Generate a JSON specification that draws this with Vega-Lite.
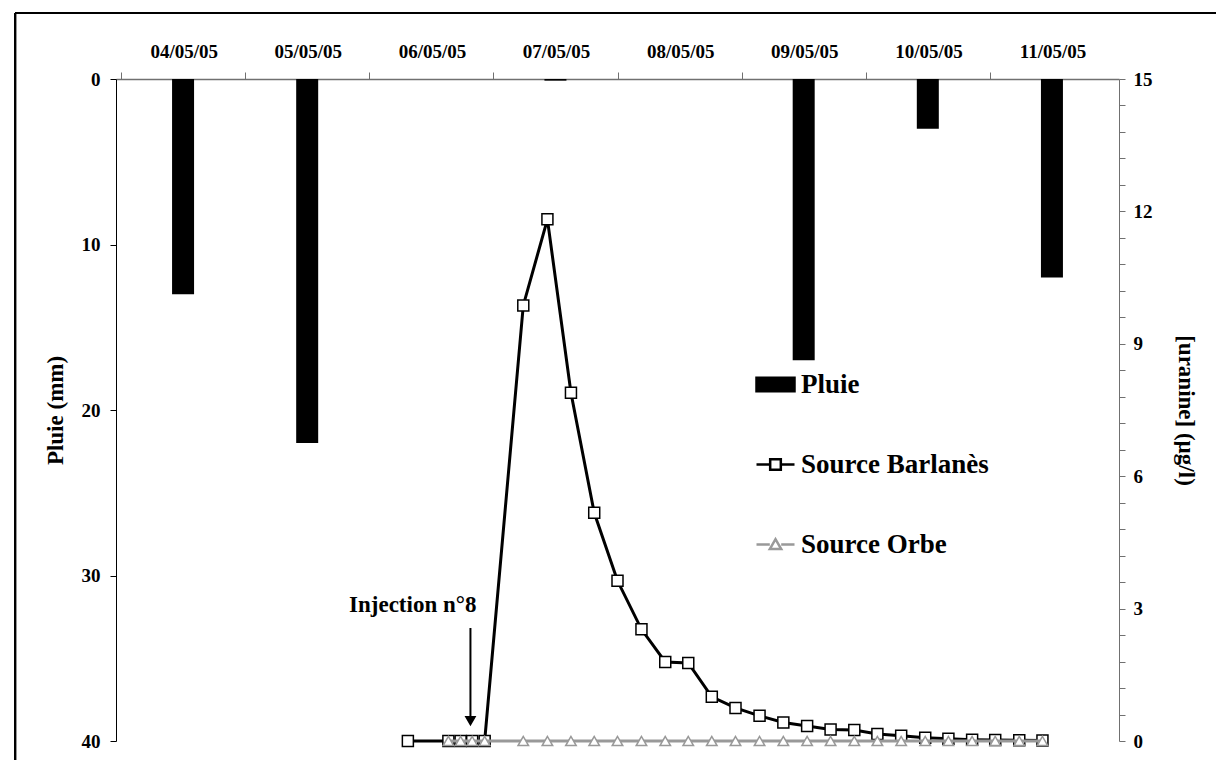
{
  "$schema": "https://vega.github.io/schema/vega-lite/v6.json",
  "width": 1003,
  "height": 662,
  "autosize": {"type": "none"},
  "padding": {"left": 116, "top": 79, "right": 97, "bottom": 19},
  "background": "white",
  "config": {
    "font": "Liberation Serif",
    "view": {"stroke": null},
    "axis": {
      "labelFont": "Liberation Serif",
      "labelFontWeight": "bold",
      "labelFontSize": 19,
      "labelColor": "black",
      "titleFont": "Liberation Serif",
      "titleFontWeight": "bold",
      "titleFontSize": 23,
      "titleColor": "black",
      "grid": false,
      "labelOverlap": false
    },
    "axisTop": {"labelOffset": 62.7, "labelFlush": false, "labelBound": false, "tickSize": 7, "labelPadding": 11, "domainColor": "#707070", "tickColor": "#707070", "domainWidth": 1.5},
    "axisLeft": {"tickSize": 6, "labelPadding": 10, "titlePadding": 14, "domainColor": "black", "tickColor": "black"},
    "axisRight": {"tickSize": 6, "labelPadding": 8, "titlePadding": 21, "domainColor": "#707070", "tickColor": "#707070"}
  },
  "datasets": {
    "pluie": [
      {"date": "2005-05-04T12:00", "series": "Pluie", "pluie": 13},
      {"date": "2005-05-05T12:00", "series": "Pluie", "pluie": 22},
      {"date": "2005-05-06T12:00", "series": "Pluie", "pluie": 0},
      {"date": "2005-05-07T12:00", "series": "Pluie", "pluie": 0.1},
      {"date": "2005-05-08T12:00", "series": "Pluie", "pluie": 0},
      {"date": "2005-05-09T12:00", "series": "Pluie", "pluie": 17},
      {"date": "2005-05-10T12:00", "series": "Pluie", "pluie": 3},
      {"date": "2005-05-11T12:00", "series": "Pluie", "pluie": 12}
    ],
    "conc": [
      {"date": "2005-05-06T07:28", "series": "Source Barlanès", "uranine": 0},
      {"date": "2005-05-06T15:18", "series": "Source Barlanès", "uranine": 0},
      {"date": "2005-05-06T17:40", "series": "Source Barlanès", "uranine": 0},
      {"date": "2005-05-06T19:54", "series": "Source Barlanès", "uranine": 0},
      {"date": "2005-05-06T22:19", "series": "Source Barlanès", "uranine": 0},
      {"date": "2005-05-07T05:47", "series": "Source Barlanès", "uranine": 9.87},
      {"date": "2005-05-07T10:27", "series": "Source Barlanès", "uranine": 11.82},
      {"date": "2005-05-07T15:00", "series": "Source Barlanès", "uranine": 7.89},
      {"date": "2005-05-07T19:30", "series": "Source Barlanès", "uranine": 5.17},
      {"date": "2005-05-08T00:00", "series": "Source Barlanès", "uranine": 3.63},
      {"date": "2005-05-08T04:38", "series": "Source Barlanès", "uranine": 2.53},
      {"date": "2005-05-08T09:14", "series": "Source Barlanès", "uranine": 1.79},
      {"date": "2005-05-08T13:41", "series": "Source Barlanès", "uranine": 1.77},
      {"date": "2005-05-08T18:14", "series": "Source Barlanès", "uranine": 1.0},
      {"date": "2005-05-08T22:49", "series": "Source Barlanès", "uranine": 0.75},
      {"date": "2005-05-09T03:28", "series": "Source Barlanès", "uranine": 0.57},
      {"date": "2005-05-09T08:04", "series": "Source Barlanès", "uranine": 0.42},
      {"date": "2005-05-09T12:40", "series": "Source Barlanès", "uranine": 0.34},
      {"date": "2005-05-09T17:12", "series": "Source Barlanès", "uranine": 0.26},
      {"date": "2005-05-09T21:47", "series": "Source Barlanès", "uranine": 0.25},
      {"date": "2005-05-10T02:15", "series": "Source Barlanès", "uranine": 0.16},
      {"date": "2005-05-10T06:51", "series": "Source Barlanès", "uranine": 0.12},
      {"date": "2005-05-10T11:30", "series": "Source Barlanès", "uranine": 0.075},
      {"date": "2005-05-10T15:59", "series": "Source Barlanès", "uranine": 0.05},
      {"date": "2005-05-10T20:34", "series": "Source Barlanès", "uranine": 0.03},
      {"date": "2005-05-11T01:02", "series": "Source Barlanès", "uranine": 0.02},
      {"date": "2005-05-11T05:41", "series": "Source Barlanès", "uranine": 0.015},
      {"date": "2005-05-11T10:10", "series": "Source Barlanès", "uranine": 0.01},
      {"date": "2005-05-06T15:18", "series": "Source Orbe", "uranine": 0},
      {"date": "2005-05-06T17:40", "series": "Source Orbe", "uranine": 0},
      {"date": "2005-05-06T19:54", "series": "Source Orbe", "uranine": 0},
      {"date": "2005-05-06T22:19", "series": "Source Orbe", "uranine": 0},
      {"date": "2005-05-07T05:47", "series": "Source Orbe", "uranine": 0},
      {"date": "2005-05-07T10:27", "series": "Source Orbe", "uranine": 0},
      {"date": "2005-05-07T15:00", "series": "Source Orbe", "uranine": 0},
      {"date": "2005-05-07T19:30", "series": "Source Orbe", "uranine": 0},
      {"date": "2005-05-08T00:00", "series": "Source Orbe", "uranine": 0},
      {"date": "2005-05-08T04:38", "series": "Source Orbe", "uranine": 0},
      {"date": "2005-05-08T09:14", "series": "Source Orbe", "uranine": 0},
      {"date": "2005-05-08T13:41", "series": "Source Orbe", "uranine": 0},
      {"date": "2005-05-08T18:14", "series": "Source Orbe", "uranine": 0},
      {"date": "2005-05-08T22:49", "series": "Source Orbe", "uranine": 0},
      {"date": "2005-05-09T03:28", "series": "Source Orbe", "uranine": 0},
      {"date": "2005-05-09T08:04", "series": "Source Orbe", "uranine": 0},
      {"date": "2005-05-09T12:40", "series": "Source Orbe", "uranine": 0},
      {"date": "2005-05-09T17:12", "series": "Source Orbe", "uranine": 0},
      {"date": "2005-05-09T21:47", "series": "Source Orbe", "uranine": 0},
      {"date": "2005-05-10T02:15", "series": "Source Orbe", "uranine": 0},
      {"date": "2005-05-10T06:51", "series": "Source Orbe", "uranine": 0},
      {"date": "2005-05-10T11:30", "series": "Source Orbe", "uranine": 0},
      {"date": "2005-05-10T15:59", "series": "Source Orbe", "uranine": 0},
      {"date": "2005-05-10T20:34", "series": "Source Orbe", "uranine": 0},
      {"date": "2005-05-11T01:02", "series": "Source Orbe", "uranine": 0},
      {"date": "2005-05-11T05:41", "series": "Source Orbe", "uranine": 0},
      {"date": "2005-05-11T10:10", "series": "Source Orbe", "uranine": 0}
    ],
    "injection": [
      {"date": "2005-05-06T19:34", "label": "Injection n°8"}
    ]
  },
  "resolve": {"scale": {"y": "independent"}},
  "layer": [
    {
      "layer": [
        {
          "data": {"name": "pluie"},
          "mark": {"type": "bar", "size": 22},
          "encoding": {
            "x": {
              "field": "date", "type": "temporal",
              "scale": {"domain": [{"year": 2005, "month": 5, "date": 4}, {"year": 2005, "month": 5, "date": 12}]},
              "axis": {"orient": "top", "title": null, "format": "%d/%m/%y", "values": [{"year": 2005, "month": 5, "date": 4}, {"year": 2005, "month": 5, "date": 5}, {"year": 2005, "month": 5, "date": 6}, {"year": 2005, "month": 5, "date": 7}, {"year": 2005, "month": 5, "date": 8}, {"year": 2005, "month": 5, "date": 9}, {"year": 2005, "month": 5, "date": 10}, {"year": 2005, "month": 5, "date": 11}]}
            },
            "y": {
              "field": "pluie", "type": "quantitative",
              "scale": {"domain": [0, 40], "reverse": true, "nice": false},
              "axis": {"orient": "left", "title": "Pluie (mm)", "values": [0, 10, 20, 30, 40]}
            },
            "fill": {
              "field": "series",
              "type": "nominal",
              "scale": {"domain": ["Pluie", "Source Barlanès", "Source Orbe"], "range": ["black", "white", "white"]},
              "legend": {
                "orient": "none",
                "legendX": 639,
                "legendY": 285,
                "title": null,
                "padding": 0,
                "symbolSize": 1444,
                "symbolStrokeWidth": 2.5,
                "labelFont": "Liberation Serif",
                "labelFontSize": 27,
                "labelFontWeight": "bold",
                "labelColor": "black",
                "labelOffset": 5,
                "rowPadding": 46,
                "labelLimit": 400,
                "encode": {
                  "symbols": {
                    "update": {
                      "shape": {"signal": "datum.value === 'Pluie' ? 'M-1,-0.36H1V0.36H-1Z' : datum.value === 'Source Barlanès' ? 'M-1,0H-0.28M0.28,0H1M-0.28,-0.28H0.28V0.28H-0.28Z' : 'M-1,0H-0.3M0.3,0H1M-0.3,0.24L0,-0.28L0.3,0.24Z'"},
                      "opacity": {"value": 1}
                    }
                  }
                }
              }
            }
          }
        },
        {
          "data": {"name": "pluie"},
          "mark": {"type": "rule", "stroke": "black", "strokeWidth": 2},
          "encoding": {
            "x": {
              "datum": {"year": 2005, "month": 5, "date": 3, "hours": 3, "minutes": 31}, "type": "temporal",
              "scale": {"domain": [{"year": 2005, "month": 5, "date": 4}, {"year": 2005, "month": 5, "date": 12}]},
              "axis": {"orient": "top", "title": null, "format": "%d/%m/%y", "values": [{"year": 2005, "month": 5, "date": 4}, {"year": 2005, "month": 5, "date": 5}, {"year": 2005, "month": 5, "date": 6}, {"year": 2005, "month": 5, "date": 7}, {"year": 2005, "month": 5, "date": 8}, {"year": 2005, "month": 5, "date": 9}, {"year": 2005, "month": 5, "date": 10}, {"year": 2005, "month": 5, "date": 11}]}
            },
            "y": {
              "datum": -3.99, "type": "quantitative",
              "scale": {"domain": [0, 40], "reverse": true, "nice": false},
              "axis": {"orient": "left", "title": "Pluie (mm)", "values": [0, 10, 20, 30, 40]}
            },
            "y2": {"datum": 60}
          }
        },
        {
          "data": {"name": "pluie"},
          "mark": {"type": "rule", "stroke": "black", "strokeWidth": 2},
          "encoding": {
            "x": {
              "datum": {"year": 2005, "month": 5, "date": 3, "hours": 3, "minutes": 31}, "type": "temporal",
              "scale": {"domain": [{"year": 2005, "month": 5, "date": 4}, {"year": 2005, "month": 5, "date": 12}]},
              "axis": {"orient": "top", "title": null, "format": "%d/%m/%y", "values": [{"year": 2005, "month": 5, "date": 4}, {"year": 2005, "month": 5, "date": 5}, {"year": 2005, "month": 5, "date": 6}, {"year": 2005, "month": 5, "date": 7}, {"year": 2005, "month": 5, "date": 8}, {"year": 2005, "month": 5, "date": 9}, {"year": 2005, "month": 5, "date": 10}, {"year": 2005, "month": 5, "date": 11}]}
            },
            "x2": {"datum": {"year": 2005, "month": 5, "date": 14}},
            "y": {
              "datum": -3.99, "type": "quantitative",
              "scale": {"domain": [0, 40], "reverse": true, "nice": false},
              "axis": {"orient": "left", "title": "Pluie (mm)", "values": [0, 10, 20, 30, 40]}
            }
          }
        }
      ]
    },
    {
      "layer": [
        {
          "data": {"name": "conc"},
          "transform": [{"filter": "datum.series === 'Source Barlanès'"}],
          "mark": {"type": "line", "strokeWidth": 3},
          "encoding": {
            "x": {
              "field": "date", "type": "temporal",
              "scale": {"domain": [{"year": 2005, "month": 5, "date": 4}, {"year": 2005, "month": 5, "date": 12}]},
              "axis": {"orient": "top", "title": null, "format": "%d/%m/%y", "values": [{"year": 2005, "month": 5, "date": 4}, {"year": 2005, "month": 5, "date": 5}, {"year": 2005, "month": 5, "date": 6}, {"year": 2005, "month": 5, "date": 7}, {"year": 2005, "month": 5, "date": 8}, {"year": 2005, "month": 5, "date": 9}, {"year": 2005, "month": 5, "date": 10}, {"year": 2005, "month": 5, "date": 11}]}
            },
            "y": {
              "field": "uranine", "type": "quantitative",
              "scale": {"domain": [0, 15], "nice": false},
              "axis": {"orient": "right", "title": "[uranine] (µg/l)", "values": [0, 0.6, 1.2, 1.8, 2.4, 3, 3.6, 4.2, 4.8, 5.4, 6, 6.6, 7.2, 7.8, 8.4, 9, 9.6, 10.2, 10.8, 11.4, 12, 12.6, 13.2, 13.8, 14.4, 15], "labelExpr": "datum.value % 3 === 0 ? format(datum.value, 'd') : ''"}
            },
            "stroke": {
              "field": "series",
              "type": "nominal",
              "scale": {"domain": ["Pluie", "Source Barlanès", "Source Orbe"], "range": ["black", "black", "#999999"]},
              "legend": {
                "orient": "none",
                "legendX": 639,
                "legendY": 285,
                "title": null,
                "padding": 0,
                "symbolSize": 1444,
                "symbolStrokeWidth": 2.5,
                "labelFont": "Liberation Serif",
                "labelFontSize": 27,
                "labelFontWeight": "bold",
                "labelColor": "black",
                "labelOffset": 5,
                "rowPadding": 46,
                "labelLimit": 400,
                "encode": {
                  "symbols": {
                    "update": {
                      "shape": {"signal": "datum.value === 'Pluie' ? 'M-1,-0.36H1V0.36H-1Z' : datum.value === 'Source Barlanès' ? 'M-1,0H-0.28M0.28,0H1M-0.28,-0.28H0.28V0.28H-0.28Z' : 'M-1,0H-0.3M0.3,0H1M-0.3,0.24L0,-0.28L0.3,0.24Z'"},
                      "opacity": {"value": 1}
                    }
                  }
                }
              }
            }
          }
        },
        {
          "data": {"name": "conc"},
          "transform": [{"filter": "datum.series === 'Source Barlanès'"}],
          "mark": {"type": "point", "shape": "square", "size": 121, "filled": false, "fill": "white", "stroke": "black", "strokeWidth": 1.5, "opacity": 1},
          "encoding": {
            "x": {
              "field": "date", "type": "temporal",
              "scale": {"domain": [{"year": 2005, "month": 5, "date": 4}, {"year": 2005, "month": 5, "date": 12}]},
              "axis": {"orient": "top", "title": null, "format": "%d/%m/%y", "values": [{"year": 2005, "month": 5, "date": 4}, {"year": 2005, "month": 5, "date": 5}, {"year": 2005, "month": 5, "date": 6}, {"year": 2005, "month": 5, "date": 7}, {"year": 2005, "month": 5, "date": 8}, {"year": 2005, "month": 5, "date": 9}, {"year": 2005, "month": 5, "date": 10}, {"year": 2005, "month": 5, "date": 11}]}
            },
            "y": {
              "field": "uranine", "type": "quantitative",
              "scale": {"domain": [0, 15], "nice": false},
              "axis": {"orient": "right", "title": "[uranine] (µg/l)", "values": [0, 0.6, 1.2, 1.8, 2.4, 3, 3.6, 4.2, 4.8, 5.4, 6, 6.6, 7.2, 7.8, 8.4, 9, 9.6, 10.2, 10.8, 11.4, 12, 12.6, 13.2, 13.8, 14.4, 15], "labelExpr": "datum.value % 3 === 0 ? format(datum.value, 'd') : ''"}
            }
          }
        },
        {
          "data": {"name": "conc"},
          "transform": [{"filter": "datum.series === 'Source Orbe'"}],
          "mark": {"type": "line", "strokeWidth": 3},
          "encoding": {
            "x": {
              "field": "date", "type": "temporal",
              "scale": {"domain": [{"year": 2005, "month": 5, "date": 4}, {"year": 2005, "month": 5, "date": 12}]},
              "axis": {"orient": "top", "title": null, "format": "%d/%m/%y", "values": [{"year": 2005, "month": 5, "date": 4}, {"year": 2005, "month": 5, "date": 5}, {"year": 2005, "month": 5, "date": 6}, {"year": 2005, "month": 5, "date": 7}, {"year": 2005, "month": 5, "date": 8}, {"year": 2005, "month": 5, "date": 9}, {"year": 2005, "month": 5, "date": 10}, {"year": 2005, "month": 5, "date": 11}]}
            },
            "y": {
              "field": "uranine", "type": "quantitative",
              "scale": {"domain": [0, 15], "nice": false},
              "axis": {"orient": "right", "title": "[uranine] (µg/l)", "values": [0, 0.6, 1.2, 1.8, 2.4, 3, 3.6, 4.2, 4.8, 5.4, 6, 6.6, 7.2, 7.8, 8.4, 9, 9.6, 10.2, 10.8, 11.4, 12, 12.6, 13.2, 13.8, 14.4, 15], "labelExpr": "datum.value % 3 === 0 ? format(datum.value, 'd') : ''"}
            },
            "stroke": {
              "field": "series",
              "type": "nominal",
              "scale": {"domain": ["Pluie", "Source Barlanès", "Source Orbe"], "range": ["black", "black", "#999999"]}
            }
          }
        },
        {
          "data": {"name": "conc"},
          "transform": [{"filter": "datum.series === 'Source Orbe'"}],
          "mark": {"type": "point", "shape": "triangle-up", "size": 110, "filled": false, "fill": "white", "stroke": "#999999", "strokeWidth": 1.5, "opacity": 1},
          "encoding": {
            "x": {
              "field": "date", "type": "temporal",
              "scale": {"domain": [{"year": 2005, "month": 5, "date": 4}, {"year": 2005, "month": 5, "date": 12}]},
              "axis": {"orient": "top", "title": null, "format": "%d/%m/%y", "values": [{"year": 2005, "month": 5, "date": 4}, {"year": 2005, "month": 5, "date": 5}, {"year": 2005, "month": 5, "date": 6}, {"year": 2005, "month": 5, "date": 7}, {"year": 2005, "month": 5, "date": 8}, {"year": 2005, "month": 5, "date": 9}, {"year": 2005, "month": 5, "date": 10}, {"year": 2005, "month": 5, "date": 11}]}
            },
            "y": {
              "field": "uranine", "type": "quantitative",
              "scale": {"domain": [0, 15], "nice": false},
              "axis": {"orient": "right", "title": "[uranine] (µg/l)", "values": [0, 0.6, 1.2, 1.8, 2.4, 3, 3.6, 4.2, 4.8, 5.4, 6, 6.6, 7.2, 7.8, 8.4, 9, 9.6, 10.2, 10.8, 11.4, 12, 12.6, 13.2, 13.8, 14.4, 15], "labelExpr": "datum.value % 3 === 0 ? format(datum.value, 'd') : ''"}
            }
          }
        },
        {
          "data": {"name": "injection"},
          "mark": {"type": "rule", "stroke": "black", "strokeWidth": 2},
          "encoding": {
            "x": {
              "field": "date", "type": "temporal",
              "scale": {"domain": [{"year": 2005, "month": 5, "date": 4}, {"year": 2005, "month": 5, "date": 12}]},
              "axis": {"orient": "top", "title": null, "format": "%d/%m/%y", "values": [{"year": 2005, "month": 5, "date": 4}, {"year": 2005, "month": 5, "date": 5}, {"year": 2005, "month": 5, "date": 6}, {"year": 2005, "month": 5, "date": 7}, {"year": 2005, "month": 5, "date": 8}, {"year": 2005, "month": 5, "date": 9}, {"year": 2005, "month": 5, "date": 10}, {"year": 2005, "month": 5, "date": 11}]}
            },
            "y": {
              "datum": 2.56, "type": "quantitative",
              "scale": {"domain": [0, 15], "nice": false},
              "axis": {"orient": "right", "title": "[uranine] (µg/l)", "values": [0, 0.6, 1.2, 1.8, 2.4, 3, 3.6, 4.2, 4.8, 5.4, 6, 6.6, 7.2, 7.8, 8.4, 9, 9.6, 10.2, 10.8, 11.4, 12, 12.6, 13.2, 13.8, 14.4, 15], "labelExpr": "datum.value % 3 === 0 ? format(datum.value, 'd') : ''"}
            },
            "y2": {"datum": 0.5}
          }
        },
        {
          "data": {"name": "injection"},
          "mark": {"type": "point", "shape": "triangle-down", "size": 70, "filled": true, "fill": "black", "stroke": "black", "opacity": 1},
          "encoding": {
            "x": {
              "field": "date", "type": "temporal",
              "scale": {"domain": [{"year": 2005, "month": 5, "date": 4}, {"year": 2005, "month": 5, "date": 12}]},
              "axis": {"orient": "top", "title": null, "format": "%d/%m/%y", "values": [{"year": 2005, "month": 5, "date": 4}, {"year": 2005, "month": 5, "date": 5}, {"year": 2005, "month": 5, "date": 6}, {"year": 2005, "month": 5, "date": 7}, {"year": 2005, "month": 5, "date": 8}, {"year": 2005, "month": 5, "date": 9}, {"year": 2005, "month": 5, "date": 10}, {"year": 2005, "month": 5, "date": 11}]}
            },
            "y": {
              "datum": 0.46, "type": "quantitative",
              "scale": {"domain": [0, 15], "nice": false},
              "axis": {"orient": "right", "title": "[uranine] (µg/l)", "values": [0, 0.6, 1.2, 1.8, 2.4, 3, 3.6, 4.2, 4.8, 5.4, 6, 6.6, 7.2, 7.8, 8.4, 9, 9.6, 10.2, 10.8, 11.4, 12, 12.6, 13.2, 13.8, 14.4, 15], "labelExpr": "datum.value % 3 === 0 ? format(datum.value, 'd') : ''"}
            }
          }
        },
        {
          "data": {"name": "injection"},
          "mark": {"type": "text", "align": "right", "baseline": "middle", "dx": 6, "font": "Liberation Serif", "fontSize": 23, "fontWeight": "bold", "color": "black"},
          "encoding": {
            "x": {
              "field": "date", "type": "temporal",
              "scale": {"domain": [{"year": 2005, "month": 5, "date": 4}, {"year": 2005, "month": 5, "date": 12}]},
              "axis": {"orient": "top", "title": null, "format": "%d/%m/%y", "values": [{"year": 2005, "month": 5, "date": 4}, {"year": 2005, "month": 5, "date": 5}, {"year": 2005, "month": 5, "date": 6}, {"year": 2005, "month": 5, "date": 7}, {"year": 2005, "month": 5, "date": 8}, {"year": 2005, "month": 5, "date": 9}, {"year": 2005, "month": 5, "date": 10}, {"year": 2005, "month": 5, "date": 11}]}
            },
            "y": {
              "datum": 3.08, "type": "quantitative",
              "scale": {"domain": [0, 15], "nice": false},
              "axis": {"orient": "right", "title": "[uranine] (µg/l)", "values": [0, 0.6, 1.2, 1.8, 2.4, 3, 3.6, 4.2, 4.8, 5.4, 6, 6.6, 7.2, 7.8, 8.4, 9, 9.6, 10.2, 10.8, 11.4, 12, 12.6, 13.2, 13.8, 14.4, 15], "labelExpr": "datum.value % 3 === 0 ? format(datum.value, 'd') : ''"}
            },
            "text": {"field": "label"}
          }
        }
      ]
    }
  ]
}
